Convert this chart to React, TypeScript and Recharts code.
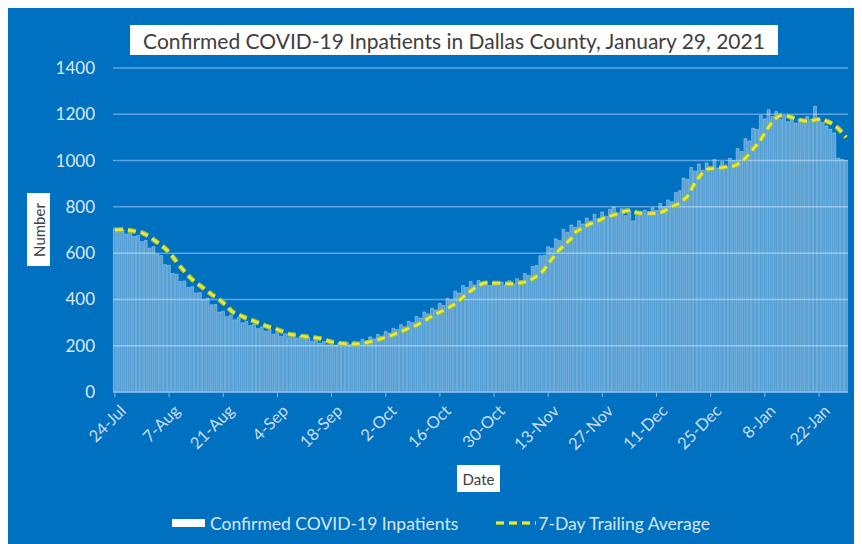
import React from 'react';
import {
  ComposedChart,
  Bar,
  Line,
  XAxis,
  YAxis,
  CartesianGrid,
} from 'recharts';

// daily confirmed inpatients, 24-Jul-2020 .. 29-Jan-2021
const inpatients = [
  708, 695, 702, 683, 694, 672, 676, 650, 655, 622, 628, 596, 590, 551,
  548, 512, 509, 478, 480, 452, 455, 428, 430, 401, 405, 377, 378, 345,
  349, 326, 333, 312, 321, 299, 305, 287, 293, 274, 281, 264, 270, 250,
  257, 241, 252, 236, 246, 233, 242, 228, 237, 220, 227, 211, 218, 204,
  214, 203, 212, 202, 214, 205, 219, 211, 228, 220, 238, 230, 249, 242,
  262, 255, 276, 270, 291, 282, 306, 300, 327, 320, 346, 338, 362, 355,
  383, 374, 405, 398, 436, 428, 460, 452, 478, 463, 482, 462, 478, 461,
  476, 459, 475, 462, 481, 468, 490, 482, 512, 504, 543, 547, 589, 590,
  628, 622, 662, 655, 702, 690, 722, 712, 740, 726, 752, 739, 768, 750,
  778, 760, 790, 800, 775, 792, 762, 784, 740, 780, 765, 786, 768, 796,
  785, 815, 800, 830, 822, 862, 870, 925, 920, 970, 955, 985, 958, 990,
  960, 1005, 968, 995, 975, 1010, 1000, 1052, 1040, 1095, 1085, 1140, 1135, 1195,
  1180, 1220, 1190, 1212, 1178, 1195, 1168, 1185, 1162, 1180, 1170, 1190, 1178, 1235,
  1180, 1165, 1150, 1135, 1120, 1010, 1005, 1000,
];

const trailingAvg = [
  700, 701, 702, 700, 698, 695, 690, 688, 680, 670, 658, 646, 634, 620,
  603, 583, 562, 540, 520, 502, 486, 472, 460, 447, 434, 422, 410, 399,
  385, 370, 352, 340, 333, 326, 319, 313, 306, 299, 292, 286, 280, 275,
  270, 263, 256, 250, 247, 245, 242, 240, 238, 236, 234, 231, 226, 221,
  216, 212, 210, 209, 208, 207, 207, 208, 210, 213, 217, 221, 226, 231,
  236, 242, 248, 255, 261, 268, 276, 283, 289, 298, 308, 318, 328, 337,
  345, 353, 362, 372, 381, 395, 410, 424, 437, 449, 460, 468, 471, 471,
  470, 470, 469, 468, 467, 467, 469, 472, 475, 480, 490, 500, 512, 530,
  555, 575, 598, 615, 632, 648, 664, 690, 700, 710, 720, 728, 735, 741,
  748, 755, 760, 765, 770, 776, 782, 784, 780, 775, 772, 771, 771, 772,
  772, 775, 782, 792, 801, 808, 815, 830, 845, 875, 905, 928, 948, 962,
  965, 966, 968, 970, 972, 974, 977, 985, 995, 1010, 1030, 1050, 1070, 1092,
  1118, 1145, 1168, 1185, 1195, 1196, 1192, 1186, 1180, 1175, 1172, 1170, 1172, 1176,
  1178, 1176, 1170, 1163, 1152, 1138, 1120, 1100,
];

const yTicks = [0, 200, 400, 600, 800, 1000, 1200, 1400];
const monthNames = ['Jan', 'Feb', 'Mar', 'Apr', 'May', 'Jun', 'Jul', 'Aug', 'Sep', 'Oct', 'Nov', 'Dec'];
const firstDay = Date.UTC(2020, 6, 24);

const days = inpatients.map((_, i) => {
  const d = new Date(firstDay + i * 86400000);
  return `${d.getUTCDate()}-${monthNames[d.getUTCMonth()]}`;
});

const data = days.map((date, i) => ({
  date,
  inpatients: inpatients[i],
  avg: trailingAvg[i],
}));

const BG = '#0070c0';
const FONT = 'Lato, "Open Sans", sans-serif';

const XTick = ({ x, y, payload }: any) => (
  <g transform={`translate(${x + 5},${y + 6})`}>
    <text
      x={0}
      y={0}
      dy="0.6em"
      textAnchor="end"
      transform="rotate(-45)"
      fill="#c9def3"
      fontSize={16.5}
      fontFamily={FONT}
    >
      {payload.value}
    </text>
  </g>
);

const whiteBox: React.CSSProperties = {
  position: 'absolute',
  background: '#ffffff',
  color: '#404040',
  fontFamily: FONT,
  display: 'flex',
  alignItems: 'center',
  justifyContent: 'center',
  whiteSpace: 'nowrap',
};

export default function App() {
  return (
    <div style={{ position: 'relative', width: 854, height: 536, background: BG }}>
      <ComposedChart
        width={854}
        height={536}
        data={data}
        margin={{ top: 60, right: 14, left: 0, bottom: 82 }}
        barCategoryGap="8%"
      >
        <CartesianGrid vertical={false} stroke="#5fa5e2" strokeWidth={1.5} />
        <XAxis
          dataKey="date"
          interval={13}
          height={70}
          axisLine={{ stroke: '#7ab6ea', strokeWidth: 1.5 }}
          tickLine={{ stroke: '#7ab6ea' }}
          tickSize={5}
          tick={<XTick />}
        />
        <YAxis
          width={105}
          domain={[0, 1400]}
          ticks={yTicks}
          axisLine={false}
          tickLine={false}
          tickSize={0}
          tickMargin={18}
          tick={{ fill: '#dde9f6', fontSize: 17, fontFamily: FONT }}
        />
        <Bar
          dataKey="inpatients"
          fill="#ffffff"
          fillOpacity={0.34}
          stroke="#ffffff"
          strokeOpacity={0.5}
          strokeWidth={0.6}
          isAnimationActive={false}
        />
        <Line
          dataKey="avg"
          type="monotone"
          stroke="#8cc63f"
          strokeWidth={5}
          strokeDasharray="8 5"
          dot={false}
          legendType="none"
          isAnimationActive={false}
        />
        <Line
          dataKey="avg"
          type="monotone"
          stroke="#f2e43c"
          strokeWidth={2.6}
          strokeDasharray="8 5"
          dot={false}
          isAnimationActive={false}
        />
      </ComposedChart>

      <div style={{ ...whiteBox, left: 122, top: 17, width: 648, height: 30, fontSize: 21 }}>
        Confirmed COVID-19 Inpatients in Dallas County, January 29, 2021
      </div>

      <div
        style={{
          ...whiteBox,
          left: 19,
          top: 185,
          width: 23,
          height: 73,
        }}
      >
        <span style={{ transform: 'rotate(-90deg)', fontSize: 15 }}>Number</span>
      </div>

      <div style={{ ...whiteBox, left: 449, top: 457, width: 43, height: 27, fontSize: 15 }}>
        Date
      </div>

      <div
        style={{
          position: 'absolute',
          left: 164,
          top: 504,
          height: 22,
          display: 'flex',
          alignItems: 'center',
          fontFamily: FONT,
          fontSize: 17.5,
          color: '#d6e6f6',
          whiteSpace: 'nowrap',
        }}
      >
        <span style={{ width: 33, height: 8, background: '#ffffff', marginRight: 5 }} />
        <span style={{ marginRight: 38 }}>Confirmed COVID-19 Inpatients</span>
        <svg width={40} height={10} style={{ marginRight: 2 }}>
          <line x1={0} y1={5} x2={40} y2={5} stroke="#8cc63f" strokeWidth={4} strokeDasharray="8 5" />
          <line x1={0} y1={5} x2={40} y2={5} stroke="#f2e43c" strokeWidth={2} strokeDasharray="8 5" />
        </svg>
        <span>7-Day Trailing Average</span>
      </div>
    </div>
  );
}
